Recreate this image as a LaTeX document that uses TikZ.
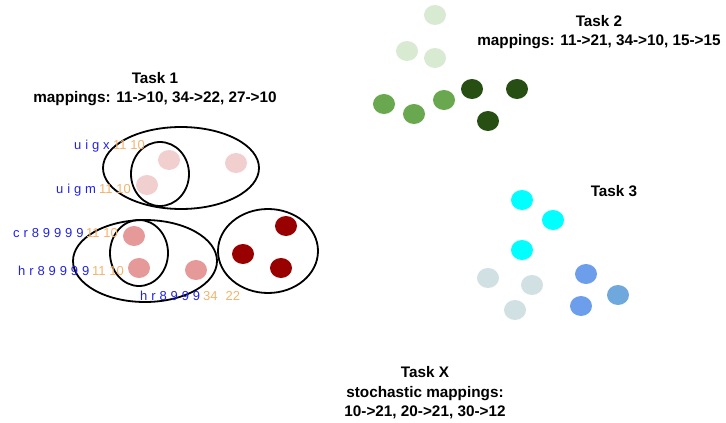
\documentclass[tikz,border=0pt]{standalone}
\usepackage{fontspec}
\setmainfont{Liberation Sans}
\newfontfamily\spacedfont[LetterSpace=30]{Liberation Sans}
\definecolor{pinkA}{HTML}{F2CFCF}
\definecolor{pinkB}{HTML}{E69999}
\definecolor{redC}{HTML}{990000}
\definecolor{greenA}{HTML}{D9EAD3}
\definecolor{greenB}{HTML}{6AA84F}
\definecolor{greenC}{HTML}{274E13}
\definecolor{cyanA}{HTML}{00FFFF}
\definecolor{greyA}{HTML}{D0E0E3}
\definecolor{blueA}{HTML}{6D9EEB}
\definecolor{blueB}{HTML}{6FA8DC}
\definecolor{lblblue}{HTML}{2222E6}
\definecolor{lblorange}{HTML}{F6B26B}
\tikzset{
  title/.style={font=\fontsize{15.3}{19.5}\selectfont\bfseries, align=center, inner sep=0pt},
  ring/.style={draw=black, line width=1.8pt},
  namelbl/.style={font=\fontsize{13}{15}\spacedfont, text=lblblue, anchor=base west, inner sep=0pt},
  numlbl/.style={font=\fontsize{13}{15}\selectfont, text=lblorange, anchor=base west, inner sep=0pt},
}
\begin{document}
\begin{tikzpicture}[x=1pt,y=-1pt]
\useasboundingbox (0,0) rectangle (726,423);
% Task 1
\node[title] (t1) at (155,89) {Task 1\\mappings: 11->10, 34->22, 27->10};
\fill[pinkA] (169,160) ellipse (11 and 10);
\fill[pinkA] (236,163) ellipse (11 and 10);
\fill[pinkA] (147,185) ellipse (11 and 10);
\fill[pinkB] (134,236) ellipse (11 and 10);
\fill[pinkB] (139,268) ellipse (11 and 10);
\fill[pinkB] (196,270) ellipse (11 and 10);
\fill[redC] (286,226) ellipse (11 and 10);
\fill[redC] (243,254) ellipse (11 and 10);
\fill[redC] (281,268) ellipse (11 and 10);
\draw[ring] (181,168) ellipse (78 and 41);
\draw[ring] (160,174) ellipse (29 and 32);
\draw[ring] (145,261) ellipse (72 and 41);
\draw[ring] (139,253) ellipse (29 and 33);
\draw[ring] (268,251) ellipse (50 and 42);
\node[namelbl] (l1) at (74,149) {uigx};
\node[numlbl] (n1) at (113,149) {11 10};
\node[namelbl] (l2) at (56,193) {uigm};
\node[numlbl] (n2) at (99,193) {11 10};
\node[namelbl] (l3) at (13,237) {cr89999};
\node[numlbl] (n3) at (86,237) {11 10};
\node[namelbl] (l4) at (18,275) {hr89999};
\node[numlbl] (n4) at (92,275) {11 10};
\node[namelbl] (l5) at (140,300) {hr8999};
\node[numlbl] (n5) at (203,300) {34\hspace{8pt}22};
% Task 2
\node[title] (t2) at (599,32) {Task 2\\mappings: 11->21, 34->10, 15->15};
\fill[greenA] (435,15) ellipse (11 and 10);
\fill[greenA] (407,51) ellipse (11 and 10);
\fill[greenA] (435,58) ellipse (11 and 10);
\fill[greenB] (384,104) ellipse (11 and 10);
\fill[greenB] (414,114) ellipse (11 and 10);
\fill[greenB] (444,100) ellipse (11 and 10);
\fill[greenC] (472,89) ellipse (11 and 10);
\fill[greenC] (517,89) ellipse (11 and 10);
\fill[greenC] (488,121) ellipse (11 and 10);
% Task 3
\node[title] (t3) at (614,191) {Task 3};
\fill[cyanA] (522,200) ellipse (11 and 10);
\fill[cyanA] (553,220) ellipse (11 and 10);
\fill[cyanA] (522,250) ellipse (11 and 10);
\fill[greyA] (488,278) ellipse (11 and 10);
\fill[greyA] (532,285) ellipse (11 and 10);
\fill[greyA] (515,310) ellipse (11 and 10);
\fill[blueA] (586,274) ellipse (11 and 10);
\fill[blueB] (618,295) ellipse (11 and 10);
\fill[blueA] (581,306) ellipse (11 and 10);
% Task X
\node[title] (tx) at (425,393) {Task X\\stochastic mappings:\\10->21, 20->21, 30->12};
\end{tikzpicture}
\end{document}
